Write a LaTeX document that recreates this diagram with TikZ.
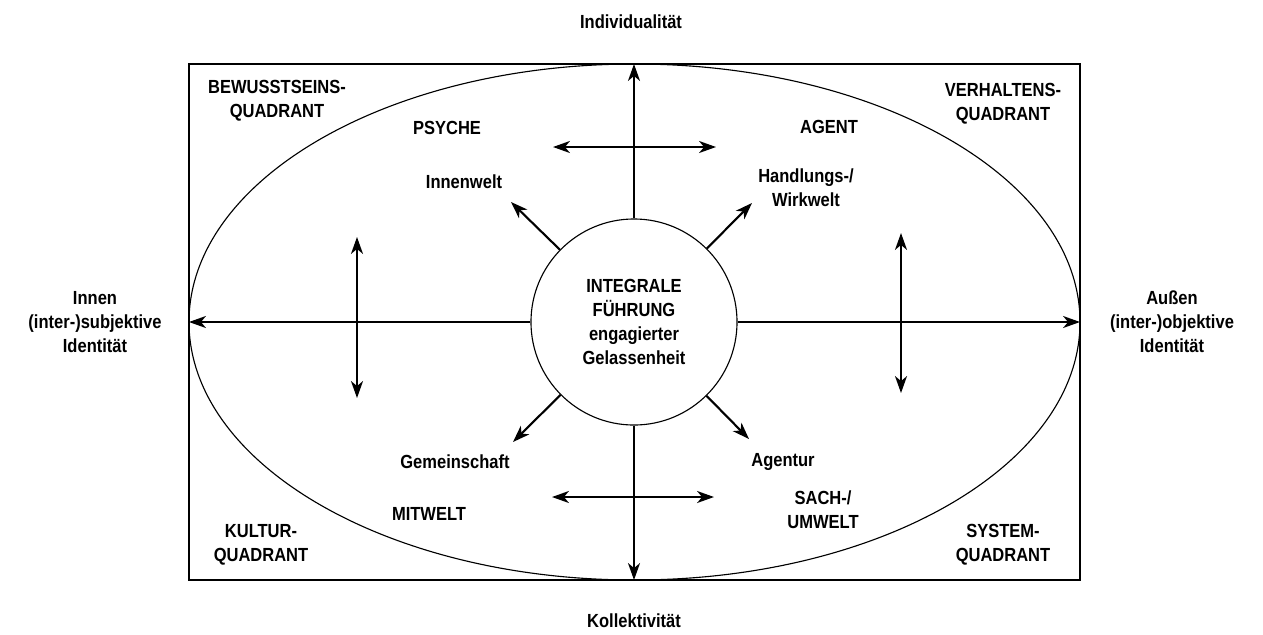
\documentclass[tikz,border=0pt]{standalone}
\usepackage{fontspec}
\setmainfont{Liberation Sans}[FakeStretch=0.87]
\usetikzlibrary{arrows.meta,positioning}

\begin{document}
\begin{tikzpicture}[x=0.025cm, y=-0.025cm,
	axis/.style={line width=1.5pt, -{Stealth[length=12pt, width=8.5pt, inset=3.5pt]}},
	both/.style={line width=1.5pt, {Stealth[length=12pt, width=8.5pt, inset=3.5pt]}-{Stealth[length=12pt, width=8.5pt, inset=3.5pt]}},
	lbl/.style={font=\bfseries\fontsize{13.5}{17}\selectfont, align=center, inner sep=0pt}]
	\useasboundingbox (0,0) rectangle (1263,634);
	\draw[line width=0.9pt] (189,64) rectangle (1080,580);
	\draw[line width=0.8pt] (634.5,322) ellipse [x radius=445.5, y radius=258];
	\node[lbl, circle, draw, line width=0.8pt, minimum size=5.15cm] (core) at (634,322) {INTEGRALE\\FÜHRUNG\\engagierter\\Gelassenheit};
	% main axes
	\coordinate (top) at (634,64);
	\coordinate (bottom) at (634,580);
	\coordinate (left) at (189,322);
	\coordinate (right) at (1080,322);
	\draw[axis] (core) -- (top);
	\draw[axis] (core) -- (bottom);
	\draw[axis] (core) -- (left);
	\draw[axis] (core) -- (right);
	% diagonals
	\coordinate (ul) at (511,202);
	\coordinate (ur) at (752,203);
	\coordinate (ll) at (513,442);
	\coordinate (lr) at (749,439);
	\draw[axis] (core) -- (ul);
	\draw[axis] (core) -- (ur);
	\draw[axis] (core) -- (ll);
	\draw[axis] (core) -- (lr);
	% double arrows
	\coordinate (n1) at (553,147);
	\coordinate (n2) at (716,147);
	\coordinate (s1) at (552,497);
	\coordinate (s2) at (714,497);
	\coordinate (w1) at (357,237);
	\coordinate (w2) at (357,398);
	\coordinate (e1) at (901,233);
	\coordinate (e2) at (901,393);
	\draw[both] (n1) -- (n2);
	\draw[both] (s1) -- (s2);
	\draw[both] (w1) -- (w2);
	\draw[both] (e1) -- (e2);
	% outer labels
	\node[lbl] (indiv) at (631,22) {Individualität};
	\node[lbl] (koll) at (634,621) {Kollektivität};
	\node[lbl] (innen) at (95,322) {Innen\\(inter-)subjektive\\Identität};
	\node[lbl] (aussen) at (1172,322) {Außen\\(inter-)objektive\\Identität};
	% quadrants
	\node[lbl] (bewusst) at (277,101) {BEWUSSTSEINS-\\QUADRANT};
	\node[lbl] (verhalt) at (1003,104) {VERHALTENS-\\QUADRANT};
	\node[lbl] (kultur) at (261,545) {KULTUR-\\QUADRANT};
	\node[lbl] (system) at (1003,545) {SYSTEM-\\QUADRANT};
	% inner labels
	\node[lbl] (psyche) at (447,128) {PSYCHE};
	\node[lbl] (agent) at (829,127) {AGENT};
	\node[lbl] (innenwelt) at (464,182) {Innenwelt};
	\node[lbl] (handlung) at (806,188) {Handlungs-/\\Wirkwelt};
	\node[lbl] (gemein) at (455,462) {Gemeinschaft};
	\node[lbl] (agentur) at (783,462) {Agentur};
	\node[lbl] (mitwelt) at (429,514) {MITWELT};
	\node[lbl] (umwelt) at (823,510) {SACH-/\\UMWELT};
\end{tikzpicture}
\end{document}
